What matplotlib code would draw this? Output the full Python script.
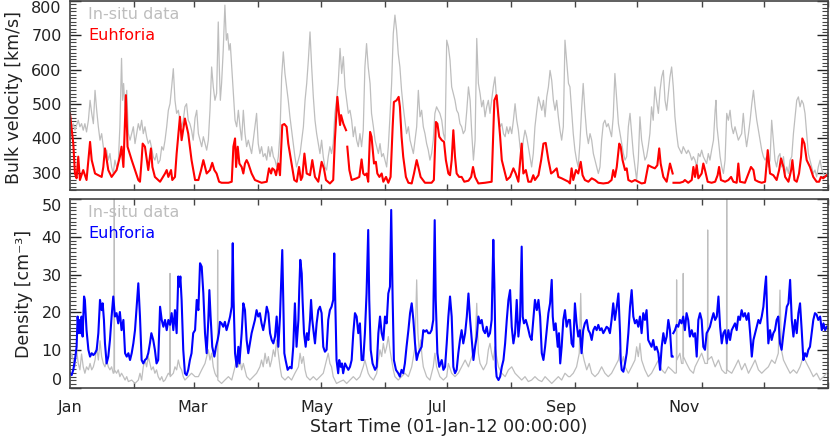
import numpy as np
import matplotlib
matplotlib.use("Agg")
from matplotlib import pyplot as plt
from matplotlib.ticker import MultipleLocator

nan = np.nan

# (day of 2012, km/s) -- Euhforia model velocity
vel_euhforia = [
    (0, 473), (1.6, 385), (2.4, 298), (3.2, 284), (4.0, 347), (4.8, 279), (6.4, 308), (8.0, 279),
    (8.9, 337), (9.7, 390), (10.5, 337), (12.1, 298), (15.3, 288), (16.1, 317), (16.9, 371),
    (18.5, 308), (20.1, 288), (22.5, 308), (24.1, 347), (24.9, 376), (25.8, 317), (26.6, 453),
    (27.0, 526), (27.8, 376), (29.8, 337), (33.0, 279), (33.8, 274), (34.6, 337), (35.1, 385),
    (36.2, 376), (37.8, 308), (38.6, 347), (39.1, 371), (39.8, 317), (41.0, 288), (43.5, 274),
    (45.9, 298), (46.7, 308), (47.5, 288), (48.8, 308), (49.4, 279), (50.7, 288), (51.5, 356),
    (53.1, 463), (53.9, 395), (55.5, 458), (57.1, 414), (58.7, 337), (60.4, 279),
    (62.0, 279), (63.3, 308), (64.4, 337), (65.2, 317), (66.0, 298), (67.6, 308), (68.7, 329),
    (69.7, 308), (70.8, 298), (72.0, 274), (73.2, 271), (76.5, 271), (78.1, 274), (78.9, 376),
    (79.7, 400), (80.2, 317), (81.0, 376), (81.8, 327), (82.9, 317), (83.7, 298), (84.5, 327),
    (85.3, 337), (86.1, 327), (87.7, 298), (89.3, 279), (92.5, 271), (95.0, 274), (96.1, 313),
    (97.1, 298), (97.7, 313), (98.7, 308), (99.5, 293), (100.6, 327), (101.4, 293), (102.5, 439),
    (103.5, 442), (104.6, 434), (105.4, 385), (107.0, 327), (108.3, 279), (109.5, 274),
    (110.6, 317), (111.5, 279), (112.2, 288), (113.2, 356), (114.3, 298), (115.9, 293),
    (117.0, 337), (118.3, 288), (119.9, 274),
    (121.5, 332), (122.6, 313), (123.6, 279), (125.5, 269), (127.1, 279), (127.9, 395),
    (129.1, 521), (129.7, 482), (130.4, 439), (130.9, 468), (132.0, 443), (133.3, 424),
    (133.6, nan), (133.9, 376), (134.9, 308), (136.0, 279), (138.4, 284), (139.7, 288),
    (140.8, 339), (141.6, 298), (142.4, 293), (143.2, 298), (144.0, 274), (144.9, 419),
    (145.6, 405), (146.8, 327), (147.7, 332), (148.4, 298), (149.4, 288), (150.5, 298),
    (151.3, 274), (152.6, 288), (153.7, 271), (154.8, 288), (155.8, 434), (156.4, 506),
    (157.7, 511), (158.7, 521), (159.3, 492), (160.1, 405), (160.9, 347), (162.2, 288),
    (163.4, 271), (165.0, 269), (166.1, 298), (167.4, 337), (168.2, 317), (169.3, 288),
    (171.4, 271), (174.6, 271), (175.7, 279), (176.7, 448), (177.4, 443), (178.3, 405),
    (179.5, 395), (180.6, 390), (181.5, 337),
    (182.7, 298), (183.5, 293), (184.3, 337), (185.1, 424), (185.9, 347), (186.7, 298),
    (187.9, 288), (189.1, 288), (190.4, 274), (192.4, 277), (193.7, 288), (194.6, 317),
    (195.6, 288), (197.2, 269), (200.4, 271), (203.6, 274), (204.9, 511), (206.0, 526),
    (206.9, 463), (207.7, 405), (208.5, 337), (209.3, 317), (210.1, 298), (210.9, 279),
    (212.5, 288), (214.1, 313), (215.2, 298), (216.5, 274), (218.1, 385), (218.9, 298),
    (220.1, 308), (221.3, 274), (222.6, 274), (223.7, 293), (224.5, 279), (226.2, 293),
    (227.5, 337), (228.6, 385), (229.7, 387), (231.0, 337), (232.3, 298), (233.4, 303),
    (235.0, 313), (235.8, 288), (237.4, 284), (239.0, 279), (240.7, 274),
    (241.4, 269), (242.2, 313), (243.0, 279), (244.3, 308), (245.4, 298), (246.6, 332),
    (247.5, 293), (248.6, 279), (250.3, 274), (251.9, 284), (253.5, 279), (255.1, 271),
    (257.5, 269), (259.9, 271), (261.5, 279), (262.3, 308), (263.1, 288), (264.0, 317),
    (265.2, 385), (265.9, 376), (266.8, 337), (268.0, 308), (268.8, 313), (269.6, 279),
    (271.2, 274), (272.8, 279), (274.4, 274), (276.0, 269), (277.6, 271), (279.2, 322),
    (280.8, 317), (282.4, 313), (283.6, 322), (284.5, 371), (285.2, 327), (286.5, 288),
    (288.1, 274), (289.7, 327), (291.0, 298), (291.2, nan), (291.4, 271), (294.5, 271),
    (296.1, 274), (296.9, 279), (298.5, 271), (300.2, 279), (301.0, 317),
    (301.8, 288), (302.6, 322), (303.4, 284), (305.0, 298), (305.8, 327), (306.6, 308),
    (307.9, 274), (309.8, 271), (311.5, 274), (312.7, 293), (313.4, 317), (314.3, 279),
    (316.3, 274), (317.9, 279), (319.2, 288), (320.3, 274), (321.9, 271), (322.7, 327),
    (323.5, 274), (325.9, 271), (327.6, 298), (328.8, 317), (330.0, 308), (330.8, 279),
    (332.4, 274), (334.0, 271), (335.6, 274), (336.9, 366), (338.0, 298), (339.6, 293),
    (341.2, 279), (342.4, 308), (343.3, 342), (344.5, 317), (345.3, 288), (346.9, 274),
    (348.2, 308), (348.8, 337), (349.8, 279), (350.9, 274), (352.0, 298), (353.0, 347),
    (353.6, 400), (354.6, 385), (355.7, 337), (357.3, 317), (358.9, 288), (360.5, 274),
    (361.7, 274), (362.6, 288), (363.7, 284), (365.4, 293),
]

# (day of 2012, km/s) -- in-situ velocity
vel_insitu = [
    (0, 405), (0.8, 434), (1.6, 443), (2.4, 424), (3.2, 439), (4.0, 453), (4.8, 434), (5.6, 443),
    (6.4, 424), (7.2, 443), (8.0, 419), (8.9, 453), (9.7, 511), (10.5, 473), (11.3, 443),
    (12.1, 540), (12.9, 482), (13.7, 434), (14.5, 395), (15.3, 414), (16.1, 376), (16.9, 347),
    (17.7, 366), (18.5, 337), (19.3, 356), (20.1, 317), (20.9, 298), (21.7, 337), (22.5, 317),
    (23.3, 327), (24.1, 434), (24.9, 633), (25.4, 511), (25.9, 560), (26.6, 482), (27.4, 540),
    (28.2, 414), (29.0, 395), (29.8, 414), (30.6, 434), (31.4, 385), (32.2, 414), (33.0, 443),
    (33.8, 424), (34.6, 453), (35.4, 414), (36.2, 434), (37.0, 405), (37.8, 385), (38.6, 395),
    (39.3, 376), (40.2, 347), (41.0, 337), (41.8, 356), (42.6, 327), (43.5, 337), (44.3, 376),
    (45.1, 366), (45.9, 395), (46.7, 434), (47.5, 482), (48.3, 501), (49.1, 550), (49.9, 603),
    (50.7, 511), (51.5, 473), (52.3, 482), (53.1, 453), (53.9, 434), (54.7, 453), (55.5, 492),
    (56.3, 501), (57.1, 453), (57.9, 443), (58.7, 424), (59.5, 395),
    (60.4, 460), (61.2, 482), (62.0, 414), (62.8, 395), (63.6, 376), (64.4, 405), (65.2, 385),
    (66.0, 366), (66.8, 395), (67.6, 482), (68.4, 608), (69.2, 550), (70.0, 511), (70.8, 531),
    (71.6, 739), (72.1, 608), (72.6, 511), (73.2, 560), (74.0, 657), (74.8, 788), (75.5, 686),
    (76.1, 705), (76.8, 657), (77.4, 676), (78.1, 608), (78.9, 531), (79.7, 453), (80.5, 434),
    (81.3, 482), (82.1, 434), (82.9, 395), (83.7, 482), (84.5, 414), (85.3, 376), (86.1, 395),
    (86.9, 376), (87.7, 356), (88.5, 395), (89.3, 434), (90.1, 473), (90.9, 385), (91.7, 356),
    (92.5, 376), (93.3, 347), (94.2, 356), (95.0, 337), (95.8, 376), (96.6, 347), (97.4, 376),
    (98.2, 347), (99.0, 337), (99.8, 317), (100.6, 347), (101.4, 414), (102.2, 579), (103.0, 652),
    (103.8, 589), (104.6, 550), (105.4, 511), (106.2, 463), (107.0, 424), (107.8, 385),
    (108.6, 347), (109.4, 317), (110.3, 337), (111.1, 356), (111.9, 395), (112.7, 434),
    (113.5, 511), (114.3, 560), (115.1, 628), (115.9, 710), (116.7, 608), (117.5, 521),
    (118.3, 453), (119.1, 414), (119.9, 385),
    (120.7, 356), (121.5, 395), (122.3, 347), (123.1, 317), (123.9, 308), (124.7, 347),
    (125.5, 376), (126.3, 356), (127.1, 385), (127.9, 473), (128.7, 511), (129.5, 560),
    (130.4, 662), (131.2, 589), (132.0, 638), (132.8, 550), (133.6, 511), (134.4, 473),
    (135.2, 482), (136.0, 453), (136.8, 405), (137.6, 434), (138.4, 395), (139.2, 376),
    (140.0, 414), (140.8, 376), (141.6, 424), (142.4, 608), (143.2, 676), (144.0, 608),
    (144.9, 560), (145.6, 473), (146.5, 434), (147.3, 395), (148.1, 376), (148.9, 356),
    (149.7, 385), (150.5, 347), (151.3, 356), (152.1, 337), (152.9, 317), (153.7, 376),
    (154.5, 463), (155.3, 560), (156.1, 705), (156.9, 759), (157.7, 715), (158.5, 647),
    (159.3, 608), (160.1, 540), (160.9, 492), (161.7, 453), (162.5, 414), (163.4, 434),
    (164.2, 395), (165.0, 376), (165.8, 356), (166.6, 395), (167.4, 434), (168.2, 540),
    (169.0, 463), (169.8, 482), (170.6, 434), (171.4, 414), (172.2, 385), (173.0, 366),
    (173.8, 337), (174.6, 356), (175.4, 395), (176.2, 473), (177.0, 492), (177.8, 482),
    (178.6, 473), (179.5, 453), (180.3, 414), (181.1, 395),
    (181.9, 686), (182.7, 667), (183.5, 628), (184.3, 550), (185.1, 531), (185.9, 511),
    (186.7, 482), (187.5, 473), (188.3, 443), (189.1, 434), (189.9, 414), (190.8, 424),
    (191.6, 482), (192.4, 550), (193.2, 511), (194.0, 414), (194.8, 337), (195.6, 395),
    (196.4, 691), (197.2, 560), (198.0, 531), (198.8, 492), (199.6, 511), (200.4, 463),
    (201.2, 492), (202.0, 511), (202.8, 473), (203.6, 511), (204.4, 550), (205.2, 579),
    (206.0, 511), (206.9, 463), (207.7, 434), (208.5, 443), (209.3, 414), (210.1, 405),
    (210.9, 434), (211.7, 414), (212.5, 434), (213.3, 414), (214.1, 453), (214.9, 501),
    (215.7, 453), (216.5, 424), (217.3, 376), (218.1, 347), (218.9, 395), (219.7, 424),
    (220.5, 405), (221.3, 376), (222.1, 347), (222.9, 317), (223.7, 356), (224.5, 434),
    (225.4, 482), (226.2, 521), (227.0, 501), (227.8, 482), (228.6, 511), (229.4, 463),
    (230.2, 521), (231.0, 550), (231.8, 598), (232.6, 569), (233.4, 511), (234.2, 482),
    (235.0, 511), (235.8, 463), (236.6, 424), (237.4, 395), (238.2, 434), (239.0, 686),
    (239.8, 628), (240.7, 560),
    (241.4, 550), (242.2, 482), (243.0, 414), (243.8, 366), (244.6, 337), (245.4, 317),
    (246.2, 385), (247.0, 482), (247.8, 560), (248.6, 482), (249.5, 414), (250.3, 385),
    (251.1, 414), (251.9, 395), (252.7, 356), (253.5, 337), (254.3, 317), (255.1, 298),
    (255.9, 317), (256.7, 395), (257.5, 443), (258.3, 453), (259.1, 434), (259.9, 443),
    (260.7, 424), (261.5, 405), (262.3, 463), (263.1, 589), (264.0, 511), (264.8, 443),
    (265.6, 414), (266.4, 385), (267.2, 356), (268.0, 337), (268.8, 347), (269.6, 434),
    (270.4, 473), (271.2, 414), (272.0, 356), (272.8, 317), (273.6, 279), (274.4, 337),
    (275.2, 463), (276.0, 395), (276.8, 366), (277.6, 337), (278.4, 347), (279.2, 376),
    (280.0, 414), (280.8, 492), (281.6, 453), (282.4, 550), (283.2, 511), (284.1, 473),
    (284.9, 540), (285.7, 579), (286.5, 598), (287.3, 511), (288.1, 482), (288.9, 531),
    (289.7, 579), (290.5, 608), (291.3, 550), (292.1, 463), (292.9, 414), (293.7, 376),
    (294.5, 366), (295.3, 356), (296.1, 376), (296.9, 366), (297.7, 356), (298.5, 366),
    (299.3, 356), (300.2, 337), (301.0, 347),
    (301.8, 337), (302.6, 317), (303.4, 356), (304.2, 347), (305.0, 366), (305.8, 347),
    (306.6, 337), (307.4, 327), (308.2, 356), (309.0, 337), (309.8, 366), (310.7, 395),
    (311.5, 482), (311.9, 511), (312.4, 434), (313.1, 395), (313.9, 347), (314.7, 317),
    (315.5, 298), (316.3, 337), (317.1, 473), (317.9, 453), (318.7, 482), (319.5, 434),
    (320.3, 414), (321.1, 434), (321.9, 414), (322.7, 395), (323.5, 405), (324.3, 414),
    (325.1, 473), (325.9, 414), (326.7, 376), (327.6, 414), (328.4, 453), (329.2, 501),
    (330.0, 540), (330.8, 492), (331.6, 453), (332.4, 424), (333.2, 395), (334.0, 366),
    (334.8, 347), (335.6, 337), (336.4, 347), (337.2, 317), (338.0, 337), (338.8, 453),
    (339.6, 395), (340.4, 337), (341.2, 317), (342.0, 347), (342.8, 356), (343.6, 317),
    (344.5, 347), (345.3, 298), (346.1, 317), (346.9, 298), (347.7, 337), (348.5, 347),
    (349.3, 414), (350.1, 463), (350.9, 511), (351.7, 521), (352.5, 492), (353.3, 511),
    (354.1, 501), (354.9, 473), (355.7, 414), (356.5, 356), (357.3, 337), (358.1, 317),
    (358.9, 298), (359.7, 308), (360.5, 288), (361.3, 317), (362.2, 337), (363.0, 308),
    (363.8, 298), (364.6, 288), (365.4, 298),
]

# (day of 2012, cm^-3) -- Euhforia model density
dens_euhforia = [
    (0, 3.9), (0.8, 3.4), (1.6, 4.8), (2.4, 7.4), (3.2, 10.9), (3.7, 18.9), (4.3, 14.5),
    (4.8, 18.0), (5.3, 14.5), (5.6, 18.9), (6.1, 13.6), (6.8, 24.2), (7.2, 23.3), (8.0, 15.3),
    (8.9, 10.1), (9.7, 8.3), (10.5, 9.2), (11.3, 8.7), (12.1, 9.2), (12.9, 10.1), (13.7, 14.5),
    (14.5, 23.3), (15.3, 20.6), (15.8, 22.4), (16.4, 18.0), (16.9, 11.8), (17.7, 6.5),
    (18.5, 8.3), (19.3, 12.7), (20.1, 18.9), (20.9, 24.2), (21.7, 18.9), (22.5, 19.8),
    (23.3, 17.1), (24.1, 20.1), (24.9, 15.3), (25.8, 18.0), (26.6, 9.2), (27.4, 8.3),
    (28.2, 9.2), (29.0, 7.4), (29.8, 9.2), (30.6, 11.8), (31.4, 15.3), (32.2, 21.5),
    (33.0, 27.7), (33.8, 18.9), (34.6, 7.4), (35.4, 6.5), (36.2, 7.4), (37.0, 7.8),
    (37.8, 9.2), (38.6, 11.8), (39.3, 14.5), (40.2, 12.7), (41.0, 10.1), (41.8, 6.5),
    (42.6, 7.4), (43.5, 21.5), (44.3, 18.0), (45.1, 16.2), (45.9, 18.0), (46.7, 15.3),
    (47.5, 18.0), (48.3, 16.7), (49.1, 19.8), (49.9, 15.3), (50.7, 20.6), (51.5, 14.5),
    (52.3, 29.5), (52.8, 26.8), (53.3, 29.5), (53.9, 23.3), (54.7, 10.1), (55.5, 3.9),
    (56.3, 3.4), (57.1, 4.8), (57.9, 7.4), (58.7, 9.2), (59.5, 14.5),
    (60.4, 15.3), (61.2, 23.3), (62.0, 20.6), (62.8, 33.0), (63.6, 32.1), (64.4, 25.0),
    (65.2, 14.5), (66.0, 9.2), (66.8, 18.0), (67.3, 25.9), (67.9, 18.9), (68.7, 10.9),
    (69.7, 8.3), (70.5, 10.9), (71.3, 12.7), (71.9, 14.5), (72.4, 17.5), (73.2, 17.1),
    (74.0, 16.2), (74.8, 17.5), (75.6, 15.3), (76.5, 17.1), (77.3, 18.9), (78.1, 21.5),
    (78.6, 38.3), (79.0, 23.3), (79.7, 9.2), (80.5, 5.6), (81.3, 10.9), (81.8, 6.5),
    (82.9, 14.5), (83.7, 22.4), (84.5, 20.6), (85.3, 12.7), (86.1, 9.2), (86.9, 11.8),
    (87.7, 14.5), (88.5, 16.2), (89.3, 18.0), (90.1, 20.6), (90.9, 18.9), (91.7, 19.8),
    (92.5, 17.1), (93.3, 15.3), (94.2, 18.0), (95.0, 21.5), (95.8, 19.8), (96.6, 14.5),
    (97.4, 12.7), (98.2, 11.8), (99.0, 13.6), (99.8, 18.9), (100.6, 10.9), (101.4, 18.9),
    (101.9, 26.8), (102.5, 36.5), (103.0, 23.3), (103.5, 9.2), (104.1, 7.4), (105.1, 4.8),
    (106.2, 5.6), (107.0, 5.2), (107.8, 10.9), (108.6, 22.4), (109.4, 10.9), (110.3, 18.0),
    (110.7, 25.9), (111.2, 33.9), (111.9, 30.3), (112.3, 23.3), (113.0, 14.5), (113.8, 10.9),
    (114.4, 14.5), (115.1, 12.7), (115.9, 18.0), (116.4, 23.3), (117.0, 18.0), (117.7, 14.5),
    (118.3, 11.8), (119.1, 17.1), (119.9, 20.6),
    (120.7, 21.5), (121.5, 19.8), (122.3, 10.9), (123.1, 9.6), (123.9, 10.1), (124.7, 18.0),
    (125.5, 20.6), (126.3, 21.5), (127.1, 23.3), (127.6, 35.6), (128.1, 23.3), (128.7, 7.4),
    (129.5, 3.9), (130.0, 7.4), (130.7, 5.6), (131.3, 6.5), (131.9, 3.9), (132.8, 6.5),
    (133.6, 5.6), (134.4, 4.8), (135.2, 5.6), (136.0, 7.4), (136.8, 14.5), (137.6, 19.8),
    (138.4, 18.9), (139.2, 14.5), (140.0, 17.1), (140.8, 7.4), (141.6, 7.4), (142.4, 14.5),
    (143.2, 25.0), (144.0, 41.8), (144.5, 23.3), (145.2, 10.1), (146.1, 6.5), (147.3, 4.8),
    (148.1, 5.6), (148.9, 14.5), (149.7, 18.9), (150.5, 14.5), (151.3, 12.7), (152.1, 18.9),
    (152.9, 17.1), (153.7, 25.0), (154.5, 26.8), (155.1, 47.1), (155.8, 23.3), (156.4, 7.4),
    (157.4, 4.8), (158.5, 3.9), (159.3, 3.0), (160.1, 4.8), (160.9, 3.9), (161.7, 6.5),
    (162.5, 10.9), (163.4, 15.3), (164.2, 19.8), (165.0, 22.4), (165.8, 18.0), (166.6, 11.8),
    (167.4, 7.4), (168.2, 9.2), (169.0, 10.1), (169.8, 10.9), (170.6, 15.3), (171.4, 14.9),
    (172.2, 15.3), (173.0, 14.5), (173.8, 14.5), (174.6, 15.3), (175.4, 18.0), (176.1, 44.4),
    (176.6, 23.3), (177.4, 9.2), (178.3, 5.6), (179.5, 7.4), (180.3, 4.8), (181.1, 5.6),
    (181.9, 11.8), (182.7, 18.9), (183.5, 24.2), (184.3, 18.9), (185.1, 5.6), (185.9, 3.9),
    (186.7, 4.8), (187.5, 9.2), (188.3, 12.7), (189.1, 15.3), (189.9, 11.8), (190.8, 14.5),
    (191.6, 18.9), (192.4, 25.0), (193.2, 18.0), (194.0, 12.7), (194.8, 7.4), (195.6, 10.9),
    (196.4, 13.6), (197.2, 18.9), (198.0, 17.1), (198.8, 18.0), (199.6, 15.3), (200.4, 14.5),
    (201.2, 16.2), (202.0, 13.6), (202.8, 14.5), (203.6, 18.0), (204.4, 39.2), (204.9, 27.7),
    (205.6, 5.6), (206.0, 3.0), (206.9, 2.1), (207.7, 3.0), (208.5, 5.6), (209.3, 7.4),
    (210.1, 11.8), (210.9, 18.0), (211.7, 23.3), (212.5, 25.9), (213.3, 16.2), (214.1, 11.8),
    (214.9, 14.5), (215.7, 23.3), (216.5, 13.6), (217.3, 18.0), (218.1, 37.4), (218.6, 18.9),
    (219.2, 17.1), (220.1, 18.0), (221.0, 16.2), (222.1, 13.6), (222.9, 12.7), (223.7, 18.0),
    (224.5, 23.3), (225.4, 20.6), (226.2, 23.3), (227.0, 18.9), (227.8, 9.2), (228.6, 7.4),
    (229.4, 10.9), (230.2, 15.3), (231.0, 19.8), (231.8, 22.4), (232.6, 28.6), (233.1, 18.9),
    (233.7, 15.3), (234.5, 17.1), (235.5, 10.9), (236.1, 14.5), (236.7, 6.5), (237.4, 10.9),
    (238.2, 18.0), (239.0, 20.6), (239.8, 16.2), (240.7, 18.0),
    (241.4, 18.0), (242.2, 11.8), (243.0, 10.9), (243.8, 22.4), (244.6, 17.1), (245.4, 13.6),
    (246.2, 15.3), (247.0, 9.2), (247.8, 15.3), (248.6, 17.1), (249.5, 18.0), (250.3, 15.3),
    (251.1, 14.5), (251.9, 12.7), (252.7, 15.3), (253.5, 16.2), (254.3, 15.3), (255.1, 16.7),
    (255.9, 15.3), (256.7, 15.8), (257.5, 14.5), (258.3, 15.3), (259.1, 16.2), (259.9, 15.8),
    (260.7, 14.5), (261.5, 18.0), (262.3, 22.4), (263.1, 18.0), (264.0, 21.5), (264.8, 25.0),
    (265.6, 14.5), (265.9, 7.4), (266.4, 4.8), (267.2, 4.3), (268.0, 6.5), (268.8, 9.2),
    (269.6, 14.5), (270.4, 21.5), (271.2, 25.9), (272.0, 18.9), (272.8, 17.1), (273.6, 18.0),
    (274.4, 16.2), (275.2, 18.9), (276.0, 14.5), (276.8, 19.8), (277.6, 18.0), (278.4, 20.6),
    (279.2, 12.7), (280.0, 11.8), (280.8, 10.9), (281.6, 12.7), (282.4, 10.1), (283.2, 10.9),
    (284.1, 9.2), (284.9, 4.8), (285.7, 10.9), (286.5, 14.5), (287.3, 11.8), (288.1, 13.6),
    (288.9, 18.0), (289.7, 15.3), (290.5, 8.3), (291.0, 8.3), (291.2, nan), (291.3, 14.5),
    (292.1, 15.3), (292.9, 16.7), (293.7, 16.2), (294.5, 18.0), (295.3, 17.1), (296.1, 18.9),
    (296.9, 15.3), (297.7, 19.8), (298.5, 18.0), (299.3, 13.6), (300.2, 15.3), (301.0, 13.6),
    (301.8, 14.5), (302.6, 8.3), (303.4, 18.0), (304.2, 19.8), (305.0, 18.0), (305.8, 10.9),
    (306.6, 10.1), (307.4, 14.5), (308.2, 15.3), (309.0, 16.2), (309.8, 18.0), (310.7, 19.8),
    (311.5, 18.0), (312.3, 18.9), (313.1, 24.2), (313.9, 16.2), (314.7, 11.8), (315.5, 14.5),
    (316.3, 15.3), (317.1, 11.8), (317.9, 15.3), (318.7, 12.7), (319.5, 15.3), (320.3, 16.2),
    (321.1, 17.1), (321.9, 15.3), (322.7, 18.9), (323.5, 18.0), (324.3, 20.6), (325.1, 18.9),
    (325.9, 19.8), (326.7, 18.0), (327.6, 19.8), (328.4, 14.5), (329.2, 8.3), (330.0, 12.7),
    (330.8, 14.5), (331.6, 16.2), (332.4, 18.0), (333.2, 17.1), (334.0, 18.9), (334.8, 21.5),
    (335.6, 26.8), (336.1, 29.5), (336.6, 19.8), (337.2, 11.8), (338.0, 15.3), (338.8, 12.7),
    (339.6, 14.5), (340.4, 15.3), (341.2, 18.0), (342.0, 18.9), (342.8, 11.8), (343.6, 10.1),
    (344.5, 14.5), (345.3, 18.0), (346.1, 21.5), (346.9, 22.4), (347.7, 28.6), (348.5, 18.0),
    (349.3, 13.6), (350.1, 18.0), (350.9, 14.5), (351.7, 19.8), (352.5, 22.4), (353.3, 15.3),
    (354.1, 7.4), (354.9, 9.2), (355.7, 8.3), (356.5, 10.1), (357.3, 10.9), (358.1, 14.5),
    (358.9, 18.0), (359.7, 19.8), (360.5, 19.4), (361.3, 18.0), (362.2, 18.9), (363.0, 15.3),
    (363.8, 17.1), (364.6, 15.3), (365.4, 16.2),
]

# (day of 2012, cm^-3) -- in-situ density
dens_insitu = [
    (0, 6.5), (0.8, 9.2), (1.6, 7.4), (2.4, 5.6), (3.2, 10.0), (4.0, 6.5), (4.8, 4.8), (5.6, 9.0),
    (6.4, 5.6), (7.2, 3.9), (8.0, 5.6), (8.9, 4.8), (9.7, 6.5), (10.5, 4.8), (11.3, 5.6),
    (12.1, 7.4), (12.9, 11.0), (13.7, 7.4), (14.5, 12.5), (15.3, 8.3), (16.1, 6.5), (16.9, 5.6),
    (17.7, 7.4), (18.5, 5.6), (19.3, 4.8), (20.1, 5.6), (20.9, 3.9), (21.3, 4.0), (21.4, 52),
    (21.5, 4.8), (22.5, 3.9), (23.3, 4.8), (24.1, 3.0), (24.9, 3.9), (25.8, 3.0), (26.6, 2.1),
    (27.4, 3.0), (28.2, 1.7), (29.8, 2.1), (31.4, 1.2), (33.0, 2.1), (33.8, 3.9), (34.6, 2.1),
    (35.4, 5.6), (36.2, 7.4), (37.0, 5.6), (37.8, 8.3), (38.6, 6.5), (39.3, 4.8), (40.2, 5.6),
    (41.0, 3.9), (41.8, 4.8), (42.6, 3.0), (43.5, 2.1), (44.3, 3.0), (45.1, 1.7), (45.9, 2.1),
    (46.7, 3.0), (47.5, 3.9), (48.2, 3.5), (48.3, 30.3), (48.4, 3.0), (49.9, 3.9), (50.7, 5.6),
    (51.5, 4.8), (52.3, 7.4), (53.1, 5.6), (53.9, 4.8), (54.7, 3.0), (55.5, 2.1), (57.1, 3.0),
    (58.7, 3.9), (60.4, 3.0), (62.0, 3.0), (63.6, 4.8), (65.2, 6.5), (66.8, 10.1), (67.6, 7.4),
    (68.4, 9.2), (69.2, 5.6), (70.0, 3.9), (70.8, 3.0), (71.2, 3.0), (71.3, 36.5), (71.4, 2.1),
    (73.2, 1.2), (74.8, 2.1), (76.5, 3.0), (78.1, 2.1), (79.7, 5.6), (80.5, 8.3), (81.3, 5.6),
    (82.1, 7.4), (82.9, 4.8), (83.7, 6.5), (84.5, 4.8), (85.3, 3.0), (86.9, 2.1), (88.5, 3.0),
    (90.1, 3.9), (91.7, 5.6), (92.5, 7.4), (93.3, 5.6), (94.2, 9.2), (95.0, 6.5), (95.8, 8.3),
    (96.6, 5.6), (97.4, 7.4), (98.2, 10.1), (99.0, 8.3), (99.8, 12.7), (100.6, 9.2),
    (101.4, 5.6), (102.2, 3.0), (103.8, 2.1), (105.4, 3.0), (107.0, 2.1), (108.6, 3.9),
    (110.3, 5.6), (111.1, 9.2), (111.9, 6.5), (112.7, 8.3), (113.5, 4.8), (114.3, 3.0),
    (115.9, 2.1), (117.5, 3.0), (119.1, 2.1), (120.7, 3.0), (122.3, 3.9), (123.9, 7.4),
    (124.7, 9.2), (125.5, 6.5), (126.3, 5.6), (127.1, 3.0), (128.7, 1.2), (130.4, 1.7),
    (132.0, 2.1), (133.6, 1.2), (135.2, 2.1), (136.8, 3.0), (138.4, 2.1), (140.0, 3.0),
    (141.6, 5.6), (142.4, 7.4), (143.2, 5.6), (144.0, 3.9), (144.9, 3.0), (146.5, 2.1),
    (148.1, 3.9), (148.9, 7.4), (149.7, 10.1), (150.5, 8.3), (151.3, 11.8), (152.1, 9.2),
    (152.9, 10.9), (153.7, 13.6), (154.5, 10.1), (155.3, 7.4), (156.1, 4.8), (156.9, 3.0),
    (158.5, 2.1), (160.1, 3.0), (161.7, 3.9), (163.4, 3.0), (165.0, 5.6), (165.8, 8.3),
    (166.6, 10.9), (167.4, 28.6), (168.0, 14.5), (168.7, 9.2), (169.3, 12.7), (170.0, 8.3),
    (170.6, 5.6), (172.2, 3.0), (173.8, 2.1), (175.4, 5.6), (176.2, 9.2), (177.0, 5.6),
    (178.6, 3.0), (180.3, 2.1), (181.9, 3.0), (182.7, 6.5), (184.3, 3.9), (185.9, 3.0),
    (187.5, 3.9), (189.1, 5.6), (190.8, 7.4), (192.4, 5.6), (194.0, 8.3), (195.6, 10.9),
    (196.4, 22.4), (197.2, 9.2), (198.0, 6.5), (199.6, 4.8), (201.2, 6.5), (202.0, 10.1),
    (202.8, 11.8), (203.6, 9.2), (204.4, 7.4), (205.2, 10.9), (206.0, 8.3), (206.9, 5.6),
    (208.5, 3.9), (210.1, 3.0), (211.7, 4.8), (213.3, 5.6), (214.9, 3.9), (216.5, 3.0),
    (218.1, 2.1), (219.7, 3.0), (221.3, 1.7), (222.9, 2.1), (224.5, 3.0), (226.2, 2.1),
    (227.8, 1.7), (229.4, 3.0), (231.0, 2.1), (232.6, 1.2), (234.2, 2.1), (235.8, 3.0),
    (237.4, 2.1), (239.0, 3.9), (240.7, 3.0), (241.4, 3.0), (243.0, 3.9), (244.6, 5.6),
    (245.9, 9.2), (246.6, 25.0), (247.2, 10.1), (248.2, 7.4), (249.5, 4.8), (250.7, 6.5),
    (251.9, 3.9), (253.5, 3.0), (255.1, 3.9), (256.7, 5.6), (258.3, 3.9), (259.9, 3.0),
    (261.5, 3.9), (263.1, 5.6), (264.8, 7.4), (265.6, 10.1), (266.4, 6.5), (267.2, 8.3),
    (268.0, 5.6), (269.6, 3.9), (271.2, 5.6), (272.8, 7.4), (273.6, 10.9), (274.4, 8.3),
    (275.2, 11.8), (276.0, 7.4), (277.6, 4.8), (279.2, 3.0), (280.8, 3.9), (282.4, 5.6),
    (284.1, 7.4), (285.7, 4.8), (287.3, 3.9), (288.9, 5.6), (290.5, 4.8), (292.1, 3.9),
    (292.8, 4.0), (292.9, 28.6), (293.0, 7.4), (294.5, 9.2), (295.3, 6.5), (296.0, 6.5),
    (296.1, 30.3), (296.2, 8.3), (297.7, 6.5), (299.3, 4.8), (301.0, 3.9), (301.8, 5.6),
    (303.4, 7.4), (305.0, 9.2), (306.6, 6.5), (307.8, 6.5), (307.9, 41.8), (308.0, 7.4),
    (309.8, 8.3), (311.5, 5.6), (313.1, 7.4), (314.7, 4.8), (316.3, 3.9), (317.0, 3.9),
    (317.1, 52), (317.2, 4.8), (319.5, 3.9), (321.1, 5.6), (322.7, 7.4), (324.3, 4.8),
    (325.9, 6.5), (327.6, 3.9), (329.2, 5.6), (330.8, 7.4), (332.4, 4.8), (334.0, 3.9),
    (335.6, 4.8), (337.2, 5.6), (338.8, 7.4), (340.4, 6.5), (342.0, 9.2), (342.8, 25.9),
    (343.5, 10.1), (344.5, 7.4), (346.1, 5.6), (347.7, 3.9), (349.3, 4.8), (350.9, 3.9),
    (352.5, 5.6), (354.1, 8.3), (355.7, 6.5), (357.3, 4.8), (358.9, 3.0), (360.5, 3.9),
    (362.2, 2.1), (363.8, 3.0), (365.4, 3.9),
]

# month starts (tick marks) and the labelled ticks as placed in the original
month_starts = [0, 31, 60, 91, 121, 152, 182, 213, 244, 274, 305, 335, 366]
month_names = ["Jan", "Mar", "May", "Jul", "Sep", "Nov"]
label_days = [0, 59.4, 119.3, 177.3, 237.3, 296.5]

grey = "#bebebe"
ink = "#222222"

fig = plt.figure(figsize=(8.3, 4.41), dpi=100)
ax1 = fig.add_axes([0.0843, 0.5692, 0.9133, 0.4285])
ax2 = fig.add_axes([0.0843, 0.1202, 0.9133, 0.4286])

d, v = np.array(vel_insitu).T
ax1.plot(d, v, color=grey, lw=0.9)
d, v = np.array(vel_euhforia).T
ax1.plot(d, v, color="red", lw=1.5)

d, v = np.array(dens_insitu).T
ax2.plot(d, v, color=grey, lw=0.9)
d, v = np.array(dens_euhforia).T
ax2.plot(d, v, color="blue", lw=1.5)

ax1.set_ylim(250, 800)
ax1.set_yticks([300, 400, 500, 600, 700, 800])
ax1.yaxis.set_minor_locator(MultipleLocator(10))
ax2.set_ylim(0, 50)
ax2.set_yticks([0, 10, 20, 30, 40, 50])
ax2.yaxis.set_minor_locator(MultipleLocator(1))

for ax in (ax1, ax2):
    ax.set_xlim(0, 366)
    ax.set_xticks(label_days)
    ax.set_xticks(month_starts, minor=True)
    ax.tick_params(axis="x", which="major", length=0, labelsize=11.5, colors=ink, pad=9)
    ax.tick_params(axis="x", which="minor", direction="in", length=4, width=1,
                   top=True, bottom=True, color="#444444")
    ax.tick_params(axis="y", which="major", direction="in", length=8, width=1,
                   left=True, right=True, labelsize=11.5, colors=ink, pad=6)
    ax.tick_params(axis="y", which="minor", direction="in", length=4, width=0.8,
                   left=True, right=True, color="#444444")
    for s in ax.spines.values():
        s.set_color("#444444")
        s.set_linewidth(1.2)

ax1.set_xticklabels([])
ax2.set_xticklabels(month_names)

# the end labels sit inside the frame, as in the original
lbl = ax1.get_yticklabels()
lbl[-1].set_va("top")
lbl = ax2.get_yticklabels()
lbl[-1].set_va("top")
lbl[0].set_va("bottom")

ax1.set_ylabel("Bulk velocity [km/s]", fontsize=12.5, color=ink)
ax1.yaxis.set_label_coords(-0.062, 0.49)
ax2.set_ylabel("Density [cm⁻³]", fontsize=12.5, color=ink)
ax2.yaxis.set_label_coords(-0.049, 0.5)
ax2.set_xlabel("Start Time (01-Jan-12 00:00:00)", fontsize=12.5, color=ink, labelpad=2)

ax1.text(0.024, 0.93, "In-situ data", color=grey, fontsize=11.5, transform=ax1.transAxes, va="center")
ax1.text(0.024, 0.82, "Euhforia", color="red", fontsize=11.5, transform=ax1.transAxes, va="center")
ax2.text(0.024, 0.93, "In-situ data", color=grey, fontsize=11.5, transform=ax2.transAxes, va="center")
ax2.text(0.024, 0.815, "Euhforia", color="blue", fontsize=11.5, transform=ax2.transAxes, va="center")

fig.savefig("out.png", dpi=100)
